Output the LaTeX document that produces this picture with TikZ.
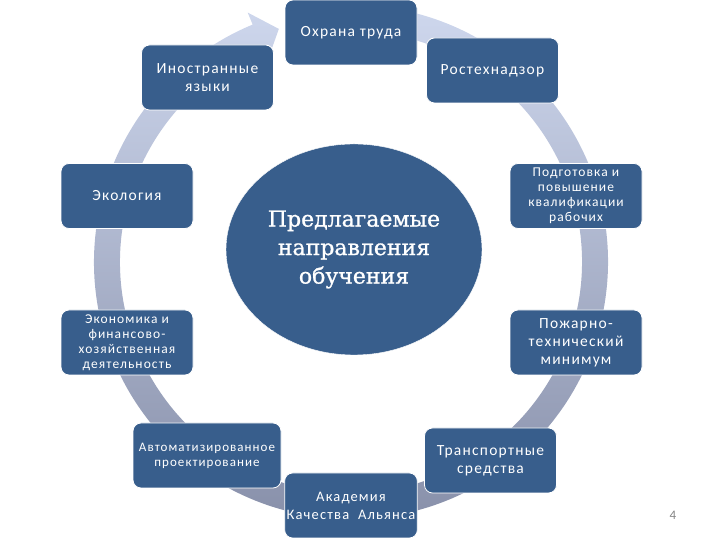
\documentclass[tikz,border=0pt]{standalone}
\usepackage{fontspec}
\newfontfamily\boxfont[LetterSpace=8]{Carlito}
\newfontfamily\hubfont[FakeBold=1]{DejaVu Serif}
\usetikzlibrary{shapes.geometric,calc}
\definecolor{boxblue}{RGB}{56,94,140}
\definecolor{ringtop}{RGB}{206,215,237}
\definecolor{ringbot}{RGB}{134,142,168}
\definecolor{pagegray}{RGB}{130,130,130}

\begin{document}
\begin{tikzpicture}[x=1pt, y=1pt,
  topic/.style={draw=white, line width=0.8pt, fill=boxblue, rounded corners=8pt,
    text=white, align=center, minimum width=132pt, minimum height=65pt, inner sep=2pt,
    font=\boxfont\fontsize{15.5}{18}\selectfont},
  smalltopic/.style={topic, font=\boxfont\fontsize{13.5}{15}\selectfont},
  hub/.style={ellipse, fill=boxblue, draw=white, text=white, align=center,
    minimum width=256pt, minimum height=211pt, inner sep=0pt,
    font=\hubfont\fontsize{22}{28.5}\selectfont}]
  \useasboundingbox (0,0) rectangle (720,540);

  % Ring arrow
  \coordinate (ctr) at (351,278);
  \shade[top color=ringtop, bottom color=ringbot]
    ($(ctr)+(82:257pt)$) arc[start angle=82, end angle=-247.5, radius=257pt]
    -- ($(ctr)+(-247.5:270pt)$) -- ($(ctr)+(-252.8:244pt)$) -- ($(ctr)+(-247.5:218pt)$)
    -- ($(ctr)+(-247.5:231pt)$) arc[start angle=-247.5, end angle=82, radius=231pt] -- cycle;

  % Centre
  \node[hub] (hub) at (354,290.5) {Предлагаемые\\направления\\обучения};

  % Topics round the ring
  \node[topic] (ohrana) at (351,507.5) {Охрана труда};
  \node[topic] (inostr) at (207.5,462.5) {Иностранные\\языки};
  \node[topic] (rostekh) at (492.5,469.5) {Ростехнадзор};
  \node[topic] (ekol) at (127,344) {Экология};
  \node[smalltopic] (podgot) at (576,344) {Подготовка и\\повышение\\квалификации\\рабочих};
  \node[smalltopic] (ekonom) at (127,197.5) {Экономика и\\финансово-\\хозяйственная\\деятельность};
  \node[topic] (pozhar) at (576,197.5) {Пожарно-\\технический\\минимум};
  \node[smalltopic, minimum width=148pt, font=\boxfont\fontsize{13}{15}\selectfont] (avtomat) at (207,84.5) {Автоматизированное\\проектирование};
  \node[topic] (transp) at (490.5,79.5) {Транспортные\\средства};
  \node[topic, font=\boxfont\fontsize{14.5}{18}\selectfont] (akadem) at (351,34.5) {Академия\\Качества~ Альянса};

  % Page number
  \node[text=pagegray, font=\boxfont\fontsize{13}{15}\selectfont] (page) at (673,25) {4};
\end{tikzpicture}
\end{document}
